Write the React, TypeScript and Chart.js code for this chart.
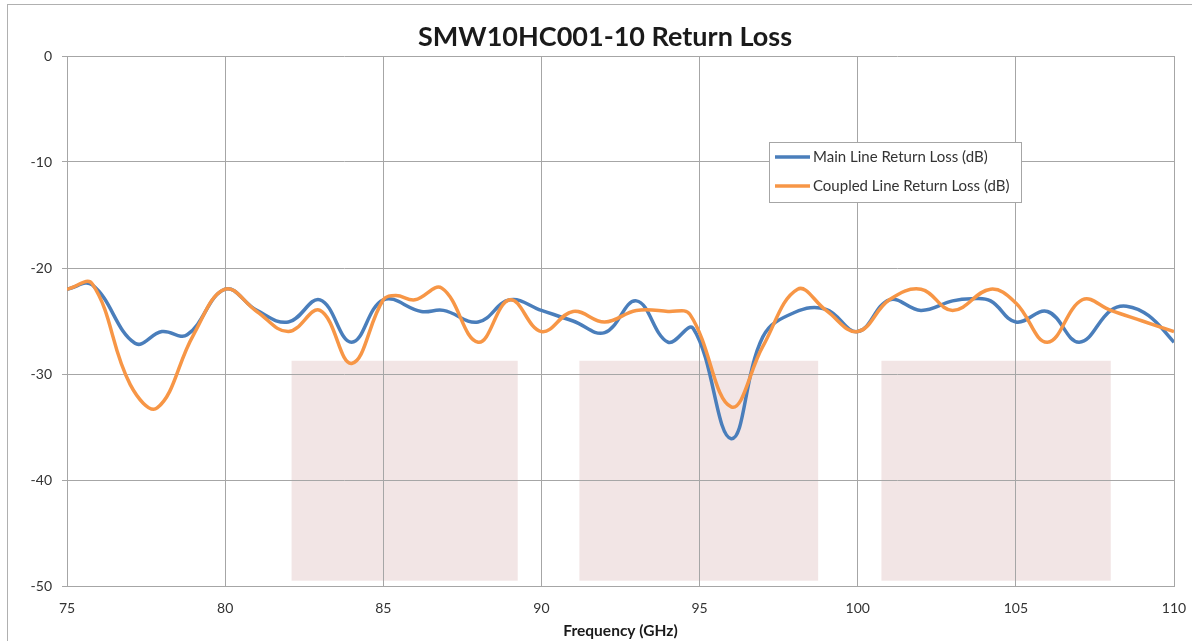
import React, { useEffect, useRef } from "react";
import { Chart, registerables } from "chart.js";
Chart.register(...registerables);

const chartTitle = "SMW10HC001-10 Return Loss";
const xAxisTitle = "Frequency (GHz)";
const seriesNames = ["Main Line Return Loss (dB)", "Coupled Line Return Loss (dB)"];
const seriesColors = ["#4A7EBB", "#F79646"];

const mainFreq = [75, 75.8, 77.15, 78, 78.8, 80, 81, 82, 83, 84, 85, 86.2, 86.9, 88, 89, 90, 91, 92, 93, 94, 94.8, 96, 97, 98, 99, 100, 101, 102, 103, 103.6, 104.2, 105, 106, 107, 108, 108.5, 109.2, 110];
const mainLoss = [-22.0, -21.6, -27.1, -26.0, -26.3, -22.0, -24.0, -25.1, -23.0, -27.0, -23.0, -24.1, -24.0, -25.1, -23.0, -24.0, -25.0, -26.1, -23.1, -27.0, -25.7, -36.1, -26.5, -24.2, -23.9, -26.0, -23.0, -24.0, -23.1, -22.9, -23.1, -25.1, -24.1, -27.0, -24.0, -23.6, -24.5, -27.0];

const coupledFreq = [75, 75.8, 77, 77.85, 79, 80, 81, 82, 83, 84, 85, 85.4, 86, 86.85, 88, 89, 90, 91, 92, 93, 94, 94.7, 96, 97, 98.1, 99, 100, 101, 102, 103, 104.2, 105, 106, 107.1, 108, 109, 110];
const coupledLoss = [-22.0, -21.5, -31.0, -33.2, -26.3, -22.0, -24.1, -26.0, -24.0, -29.0, -23.0, -22.6, -23.0, -21.9, -27.0, -23.0, -26.0, -24.1, -25.1, -24.0, -24.1, -24.4, -33.1, -27.4, -22.0, -24.0, -26.0, -23.0, -22.0, -24.0, -22.0, -23.3, -27.0, -23.0, -24.0, -25.0, -26.0];

const bandStart = [82.1, 91.2, 100.75];
const bandEnd = [89.25, 98.75, 108.0];
const bandTop = -28.75;
const bandBottom = -49.5;

const xMin = 75;
const xMax = 110;
const xStep = 5;
const yMin = -50;
const yMax = 0;
const yStep = 10;

const FONT = "Lato, 'Open Sans', sans-serif";

const bandsPlugin = {
  id: "bands",
  beforeDraw(chart: any) {
    const { ctx, scales } = chart;
    const xs = scales.x;
    const ys = scales.y;
    ctx.save();
    ctx.fillStyle = "#F2E5E5";
    for (let i = 0; i < bandStart.length; i++) {
      const x0 = xs.getPixelForValue(bandStart[i]);
      const x1 = xs.getPixelForValue(bandEnd[i]);
      const y0 = ys.getPixelForValue(bandTop);
      const y1 = ys.getPixelForValue(bandBottom);
      ctx.fillRect(x0, y0, x1 - x0, y1 - y0);
    }
    ctx.restore();
  },
};

const titlePlugin = {
  id: "customTitle",
  afterDraw(chart: any) {
    const { ctx } = chart;
    ctx.save();
    ctx.font = `bold 27px ${FONT}`;
    ctx.fillStyle = "#1a1a1a";
    ctx.textAlign = "center";
    ctx.textBaseline = "middle";
    ctx.fillText(chartTitle, 605, 37);
    ctx.restore();
  },
};

const legendPlugin = {
  id: "customLegend",
  afterDatasetsDraw(chart: any) {
    const { ctx } = chart;
    const bx = 769.5, by = 142.5, bw = 252, bh = 60;
    ctx.save();
    ctx.fillStyle = "#ffffff";
    ctx.fillRect(bx, by, bw, bh);
    ctx.strokeStyle = "#a6a6a6";
    ctx.lineWidth = 1;
    ctx.strokeRect(bx, by, bw, bh);
    ctx.font = `15px ${FONT}`;
    ctx.textBaseline = "middle";
    ctx.textAlign = "left";
    const rows = [157, 186];
    for (let i = 0; i < seriesNames.length; i++) {
      ctx.strokeStyle = seriesColors[i];
      ctx.lineWidth = 3.5;
      ctx.beginPath();
      ctx.moveTo(775, rows[i]);
      ctx.lineTo(810, rows[i]);
      ctx.stroke();
      ctx.fillStyle = "#333333";
      ctx.fillText(seriesNames[i], 813, rows[i]);
    }
    ctx.restore();
  },
};

export default function App() {
  const ref = useRef<HTMLCanvasElement | null>(null);
  useEffect(() => {
    if (!ref.current) return;
    const chart = new Chart(ref.current, {
      type: "line",
      data: {
        datasets: [
          {
            label: seriesNames[0],
            data: mainFreq.map((f, i) => ({ x: f, y: mainLoss[i] })),
            borderColor: seriesColors[0],
            backgroundColor: seriesColors[0],
            borderWidth: 3.5,
            pointRadius: 0,
            tension: 0.4,
            fill: false,
            order: 2,
          },
          {
            label: seriesNames[1],
            data: coupledFreq.map((f, i) => ({ x: f, y: coupledLoss[i] })),
            borderColor: seriesColors[1],
            backgroundColor: seriesColors[1],
            borderWidth: 3.5,
            pointRadius: 0,
            tension: 0.4,
            fill: false,
            order: 1,
          },
        ],
      },
      options: {
        animation: false,
        responsive: false,
        devicePixelRatio: 1,
        layout: { padding: { top: 56, right: 18, left: 0, bottom: 0 } },
        plugins: {
          legend: { display: false },
          title: { display: false },
          tooltip: { enabled: false },
        },
        scales: {
          x: {
            type: "linear",
            min: xMin,
            max: xMax,
            afterFit(scale: any) {
              scale.height = 55;
              scale.paddingLeft = 0;
              scale.paddingRight = 0;
            },
            ticks: {
              stepSize: xStep,
              padding: 14,
              color: "#333333",
              font: { family: FONT, size: 14 },
            },
            grid: { color: "#a6a6a6", drawTicks: false, lineWidth: 1 },
            border: { color: "#a6a6a6" },
            title: {
              display: true,
              text: xAxisTitle,
              color: "#1a1a1a",
              font: { family: FONT, size: 15.5, weight: "bold" },
              padding: { top: 0, bottom: 1 },
            },
          },
          y: {
            type: "linear",
            min: yMin,
            max: yMax,
            afterFit(scale: any) {
              scale.width = 67;
              scale.paddingTop = 0;
              scale.paddingBottom = 0;
            },
            ticks: {
              stepSize: yStep,
              padding: 10,
              color: "#333333",
              font: { family: FONT, size: 14 },
            },
            grid: { color: "#a6a6a6", tickLength: 5, lineWidth: 1 },
            border: { color: "#a6a6a6" },
          },
        },
      } as any,
      plugins: [bandsPlugin, titlePlugin, legendPlugin],
    });
    return () => chart.destroy();
  }, []);

  return (
    <div style={{ position: "fixed", left: 0, top: 0, width: 1192, height: 641, background: "#ffffff", overflow: "hidden" }}>
      <div style={{ position: "absolute", left: 7, top: 4, width: 1300, height: 800, border: "1px solid #b0b0b0" }} />
      <canvas ref={ref} width={1192} height={641} style={{ position: "absolute", left: 0, top: 0, width: 1192, height: 641 }} />
    </div>
  );
}
